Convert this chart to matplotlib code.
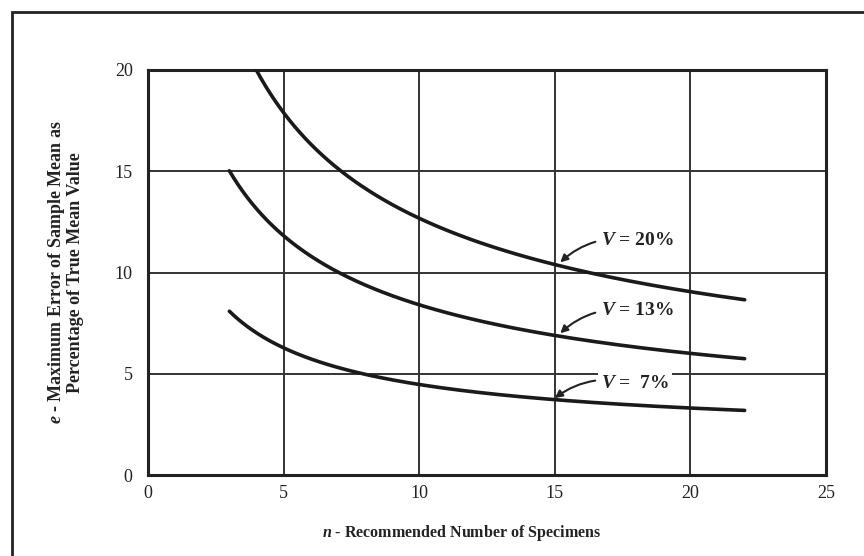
import numpy as np
import matplotlib
matplotlib.use("Agg")
import matplotlib.pyplot as plt
from matplotlib.patches import Rectangle

# Maximum error of sample mean vs. number of specimens, for three
# coefficients of variation V
n_20 = [4, 5, 6, 7, 8, 10, 12, 15, 18, 20, 22]
e_20 = [20.0, 17.9, 16.3, 15.1, 14.2, 12.7, 11.6, 10.4, 9.5, 9.0, 8.7]

n_13 = [3, 4, 5, 6, 7, 8, 10, 12, 15, 18, 20, 22]
e_13 = [15.0, 13.2, 11.8, 10.8, 10.0, 9.4, 8.4, 7.7, 6.9, 6.3, 6.0, 5.75]

n_7 = [3, 4, 5, 6, 7, 8, 10, 12, 15, 18, 20, 22]
e_7 = [8.1, 7.0, 6.3, 5.7, 5.3, 5.0, 4.5, 4.1, 3.7, 3.45, 3.3, 3.2]

x_ticks = [0, 5, 10, 15, 20, 25]
y_ticks = [0, 5, 10, 15, 20]

plt.rcParams['font.family'] = ['Liberation Serif', 'DejaVu Serif']
plt.rcParams['mathtext.fontset'] = 'custom'
plt.rcParams['mathtext.it'] = 'Liberation Serif:italic:bold'
plt.rcParams['mathtext.rm'] = 'Liberation Serif:bold'

fig = plt.figure(figsize=(8.64, 5.56), dpi=100)
ax = fig.add_axes([148/864, 81/556, 678/864, 405/556])

# frame around the whole figure (runs off the right and bottom edges)
fig.patches.append(Rectangle((12/864, -0.05), 1.2, 1 - 12/556 + 0.05,
                             transform=fig.transFigure, fill=False,
                             edgecolor='#222222', lw=2.0, zorder=0))


def smooth(n, e):
    # cubic fit in log space to draw a clean curve through the points
    ln = np.log(n)
    le = np.log(e)
    xs = np.linspace(ln[0], ln[-1], 200)
    p = np.polyfit(ln, le, 3)
    return np.exp(xs), np.exp(np.polyval(p, xs))


for n, e in [(n_20, e_20), (n_13, e_13), (n_7, e_7)]:
    xs, ys = smooth(n, e)
    ax.plot(xs, ys, color='#1a1a1a', lw=2.6, solid_capstyle='round', zorder=3)

ax.set_xlim(0, 25)
ax.set_ylim(0, 20)
ax.set_xticks(x_ticks)
ax.set_yticks(y_ticks)
ax.grid(True, color='#333333', lw=1.4)
ax.set_axisbelow(True)
ax.tick_params(length=0, labelsize=13, colors='#222222')
ax.tick_params(axis='y', pad=11)
ax.tick_params(axis='x', pad=7)
for s in ax.spines.values():
    s.set_linewidth(2.2)
    s.set_color('#222222')

ax.set_xlabel(r'$n$ - Recommended Number of Specimens',
              fontsize=11.5, fontweight='bold', color='#222222')
ax.xaxis.set_label_coords(0.462, -0.118)
ax.set_ylabel('$e$ - Maximum Error of Sample Mean as\nPercentage of True Mean Value',
              fontsize=13, fontweight='bold', labelpad=22, color='#222222',
              linespacing=1.0)

# curve labels with curved leader arrows
labels = [(r'$V$ = 20%', 15.2, 10.5, 16.7, 11.6),
          (r'$V$ = 13%', 15.2, 7.0, 16.7, 8.1),
          (r'$V$ =  7%', 15.0, 3.8, 16.7, 4.5)]
for txt, xa, ya, xt, yt in labels:
    ax.annotate(txt, xy=(xa, ya), xytext=(xt, yt), fontsize=14,
                fontweight='bold', color='#222222',
                va='center', ha='left',
                bbox=dict(boxstyle='square,pad=0.15', fc='white', ec='none'),
                arrowprops=dict(arrowstyle='-|>', color='#222222', lw=1.5,
                                shrinkA=2, shrinkB=0, mutation_scale=11,
                                connectionstyle='arc3,rad=0.25'),
                zorder=5)

fig.savefig('out.png', dpi=100)
